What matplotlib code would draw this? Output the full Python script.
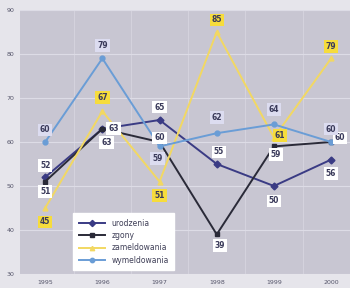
import matplotlib.pyplot as plt
import numpy as np

# ---------------------- dane ----------------------
years = ['1995', '1996', '1997', '1998', '1999', '2000']
urodzenia = [52, 63, 65, 55, 50, 56]
zgony = [51, 63, 60, 39, 59, 60]
zameldowania = [45, 67, 51, 85, 61, 79]
wymeldowania = [60, 79, 59, 62, 64, 60]
y_ticks = [30, 40, 50, 60, 70, 80, 90]

# przesunięcia etykiet (px)
off_urodzenia = [(0, 12), (11, 0), (0, 13), (2, 12), (0, -15), (0, -14)]
off_zgony = [(0, -10), (4, -14), (0, 4), (3, -11), (2, -8), (9, 4)]
off_zameldowania = [(0, -14), (0, 14), (0, -14), (0, 12), (6, 2), (0, 12)]
off_wymeldowania = [(0, 12), (0, 13), (-2, -12), (0, 16), (0, 15), (0, 13)]

series = [
    ('urodzenia', urodzenia, '#3a3b84', 'D', off_urodzenia, 'white'),
    ('zgony', zgony, '#2a2a38', 's', off_zgony, 'white'),
    ('zameldowania', zameldowania, '#f2d862', '^', off_zameldowania, '#f6dc3c'),
    ('wymeldowania', wymeldowania, '#6a9dd6', 'o', off_wymeldowania, '#dcdcf0'),
]

fig = plt.figure(figsize=(3.5, 2.88), dpi=100)
fig.patch.set_facecolor('#e6e5eb')
ax = fig.add_axes([20 / 350, 14 / 288, 330 / 350, 264 / 288])
ax.set_facecolor('#c8c6d2')

x = np.arange(len(years))
for name, vals, col, mk, offs, box in series:
    ax.plot(x, vals, color=col, linewidth=1.4, marker=mk, markersize=3.5,
            markeredgecolor=col, label=name, zorder=3)
    for xi, v, (dx, dy) in zip(x, vals, offs):
        ax.annotate(str(v), (xi, v), xytext=(dx * 0.72, dy * 0.72),
                    textcoords='offset points', ha='center', va='center',
                    fontsize=5.5, fontweight='bold', color='#3a3a5a',
                    bbox=dict(boxstyle='square,pad=0.25', fc=box, ec='none'),
                    zorder=4)

ax.set_xlim(-0.44, 5.33)
ax.set_ylim(30, 90)
ax.set_xticks(x)
ax.set_xticklabels(years, fontsize=4.5, color='#55556a')
ax.set_yticks(y_ticks)
ax.set_yticklabels([str(t) for t in y_ticks], fontsize=4.5, color='#55556a')
ax.tick_params(length=0, pad=4)
ax.grid(axis='y', color='#dddce6', linewidth=0.8)
for xb in x[:-1] + 0.5:
    ax.axvline(xb, color='#d4d2dd', linewidth=0.8, zorder=0)
for s in ax.spines.values():
    s.set_visible(False)

ax.legend(loc='lower left', bbox_to_anchor=(0.15, 0.0), fontsize=5.5,
          frameon=True, fancybox=False, facecolor='white', edgecolor='white',
          framealpha=1, handlelength=3.5, labelspacing=0.45,
          borderpad=0.7, labelcolor='#404058', markerscale=0.9)

plt.savefig('out.png', dpi=100)
